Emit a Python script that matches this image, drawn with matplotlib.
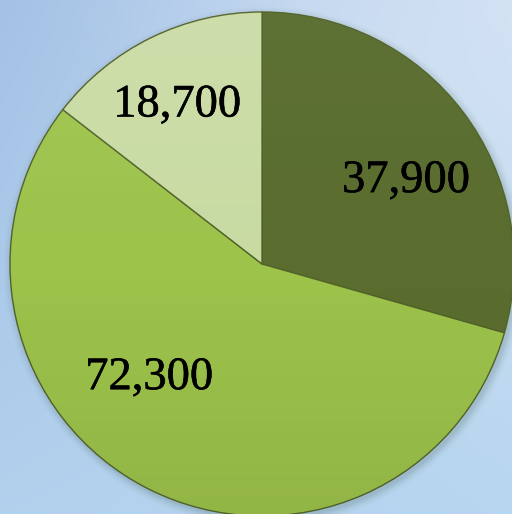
import numpy as np
import matplotlib
matplotlib.use("Agg")
import matplotlib.pyplot as plt
import matplotlib.patheffects as pe

values = [37900, 72300, 18700]
labels = ["37,900", "72,300", "18,700"]
colors = ["#5a6d2f", "#9dc34b", "#c9dba3"]
# label offsets from the pie centre, in radius units
label_offsets = [(0.571, 0.330), (-0.448, -0.452), (-0.337, 0.630)]

W, H = 512, 514
fig = plt.figure(figsize=(W / 100, H / 100), dpi=100)
ax = fig.add_axes([0, 0, 1, 1])

# sky-blue background gradient
yy, xx = np.mgrid[0:1:200j, 0:1:200j]
tl = np.array([0.64, 0.76, 0.90])
tr = np.array([0.82, 0.88, 0.95])
bl = np.array([0.70, 0.82, 0.93])
br = np.array([0.72, 0.84, 0.94])
bg = ((1 - xx)[..., None] * (1 - yy)[..., None] * tl + xx[..., None] * (1 - yy)[..., None] * tr
      + (1 - xx)[..., None] * yy[..., None] * bl + xx[..., None] * yy[..., None] * br)
blob = np.exp(-(((xx - 0.75) / 0.35) ** 2 + ((yy - 0.15) / 0.3) ** 2))[..., None]
bg = bg * (1 - 0.35 * blob) + np.array([0.86, 0.91, 0.97]) * 0.35 * blob
ax.imshow(bg, extent=(0, W, 0, H), origin="upper", zorder=0, aspect="auto")

cx, cy, r = 262, H - 264, 252

# soft shadow
for i, a in enumerate(np.linspace(0.05, 0.01, 6)):
    ax.add_patch(plt.Circle((cx + 2, cy - 3), r + 1 + i * 1.5, color="#2a4a30", alpha=a, lw=0, zorder=1))

wedges, _ = ax.pie(values, colors=colors, startangle=90, counterclock=False,
                   center=(cx, cy), radius=r, frame=True,
                   wedgeprops=dict(edgecolor="#52632a", linewidth=1.0))

# vertical shading inside each slice: lighter on top, darker below
t = np.linspace(0, 1, 100)
for w, strength in zip(wedges, [0.06, 0.14, 0.16]):
    w.set_zorder(2)
    shade = np.zeros((100, 2, 4))
    shade[..., :3] = np.where(t < 0.5, 1.0, 0.0)[:, None, None]
    shade[..., 3] = (np.abs(t - 0.5) * strength)[:, None]
    im = ax.imshow(shade, extent=(cx - r, cx + r, cy - r, cy + r), origin="upper",
                   aspect="auto", zorder=3)
    im.set_clip_path(w)

for w, lab, (ox, oy) in zip(wedges, labels, label_offsets):
    ax.text(cx + ox * r, cy + oy * r, lab, ha="center", va="center",
            fontsize=33.5, family="Liberation Serif", color="black", zorder=5,
            path_effects=[pe.withStroke(linewidth=0.4, foreground="black")])

ax.set_xlim(0, W)
ax.set_ylim(0, H)
ax.set_aspect("auto")
ax.axis("off")
fig.savefig("out.png", dpi=100)
